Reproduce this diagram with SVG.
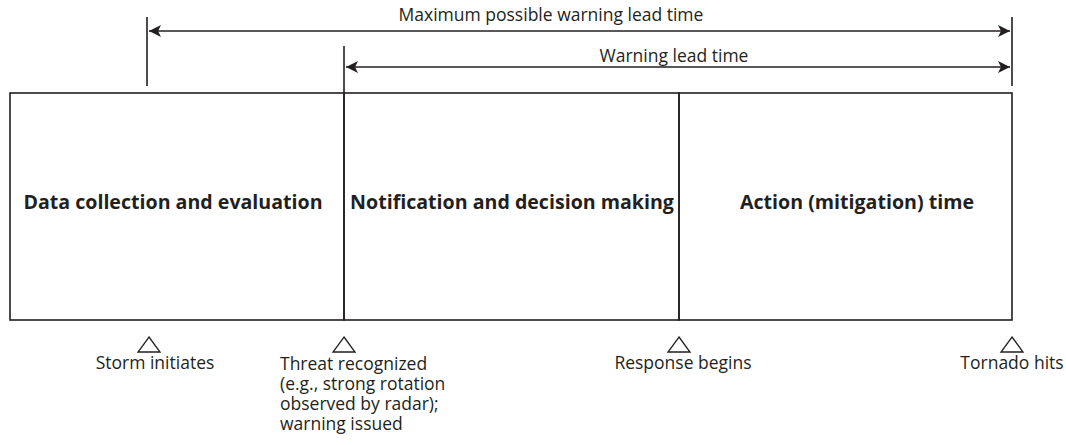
<svg xmlns="http://www.w3.org/2000/svg" width="1066" height="445" viewBox="0 0 1066 445">
<defs>
<marker id="ah" viewBox="0 0 12 12" refX="12" refY="6" markerWidth="12" markerHeight="12" markerUnits="userSpaceOnUse" orient="auto-start-reverse">
<path d="M0,0 L12,6 L0,12 L3,6 Z" fill="#231f20"/>
</marker>
<style>
.ln{stroke:#231f20;stroke-width:1.6;fill:none}
.tri{stroke:#231f20;stroke-width:1.3;fill:#fff}
.t{font-family:"Open Sans","Liberation Sans",sans-serif;font-size:17.5px;fill:#231f20}
.b{font-family:"Open Sans","Liberation Sans",sans-serif;font-size:19.6px;font-weight:bold;fill:#231f20}
</style>
</defs>
<rect width="1066" height="445" fill="#fff"/>
<g id="connectors">
<line class="ln" x1="147" y1="17" x2="147" y2="86"/>
<line class="ln" x1="1012" y1="17" x2="1012" y2="86"/>
<line class="ln" x1="344" y1="46" x2="344" y2="93"/>
<line class="ln" x1="149" y1="31" x2="1010" y2="31" marker-start="url(#ah)" marker-end="url(#ah)"/>
<line class="ln" x1="346" y1="67" x2="1010" y2="67" marker-start="url(#ah)" marker-end="url(#ah)"/>
</g>
<g id="label-max"><text class="t" x="551" y="21" text-anchor="middle">Maximum possible warning lead time</text></g>
<g id="label-lead"><text class="t" x="674" y="62" text-anchor="middle">Warning lead time</text></g>
<g id="box-data">
<rect class="ln" x="10" y="93" width="334" height="227"/>
<text class="b" x="173" y="209" text-anchor="middle">Data collection and evaluation</text>
</g>
<g id="box-notify">
<rect class="ln" x="344" y="93" width="335" height="227"/>
<text class="b" x="512" y="209" text-anchor="middle">Notification and decision making</text>
</g>
<g id="box-action">
<rect class="ln" x="679" y="93" width="333" height="227"/>
<text class="b" x="857" y="209" text-anchor="middle">Action (mitigation) time</text>
</g>
<g id="m-storm">
<path class="tri" d="M149,337 L160,352 L138,352 Z"/>
<text class="t" x="155" y="369" text-anchor="middle">Storm initiates</text>
</g>
<g id="m-threat">
<path class="tri" d="M344,337 L355,352 L333,352 Z"/>
<text class="t" x="280" y="370"><tspan x="280" y="370">Threat recognized</tspan><tspan x="280" y="390">(e.g., strong rotation</tspan><tspan x="280" y="410">observed by radar);</tspan><tspan x="280" y="430">warning issued</tspan></text>
</g>
<g id="m-response">
<path class="tri" d="M679,337 L690,352 L668,352 Z"/>
<text class="t" x="683" y="369" text-anchor="middle">Response begins</text>
</g>
<g id="m-tornado">
<path class="tri" d="M1012,337 L1023,352 L1001,352 Z"/>
<text class="t" x="1012" y="369" text-anchor="middle">Tornado hits</text>
</g>
</svg>
